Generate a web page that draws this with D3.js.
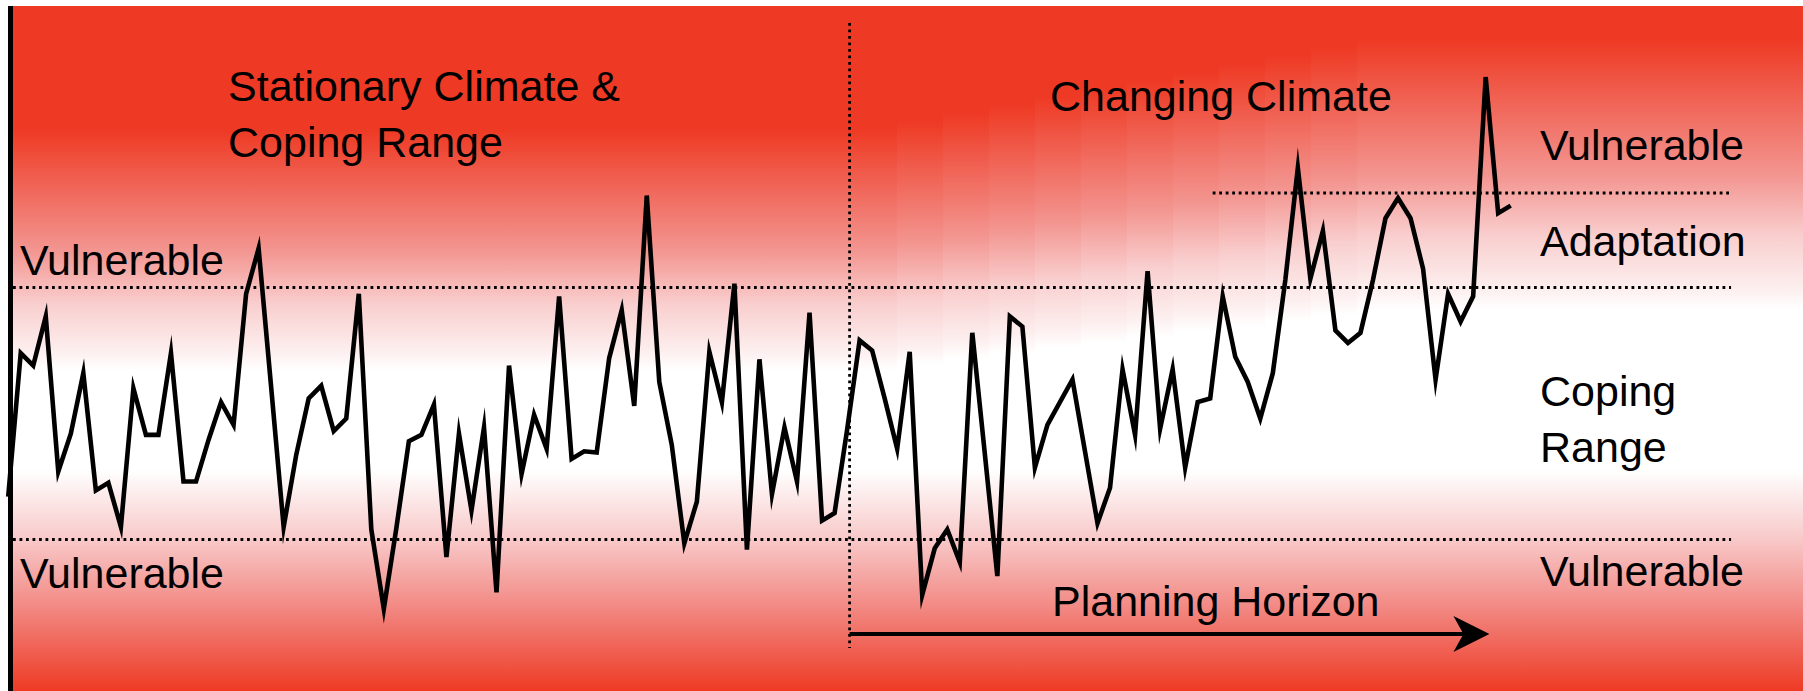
<!DOCTYPE html>
<html>
<head>
<meta charset="utf-8">
<script src="https://cdn.jsdelivr.net/npm/d3@7"></script>
<style>
html,body{margin:0;padding:0;background:#fff;overflow:hidden}
text{font-family:"Liberation Sans",Arial,Helvetica,sans-serif;fill:#000}
</style>
</head>
<body>
<svg id="chart" width="1803" height="691"></svg>
<script>
// ---------------- data ----------------
const steps = d3.range(121); // time steps
const climateValues = [
  -0.66, 0.48, 0.38, 0.77, -0.46, -0.16, 0.32, -0.61, -0.55, -0.90,
   0.20, -0.17, -0.17, 0.48, -0.54, -0.54, -0.21, 0.09, -0.09, 0.95,
   1.31, 0.21, -0.90, -0.33, 0.12, 0.22, -0.14, -0.04, 0.95, -0.92,
  -1.55, -0.91, -0.22, -0.17, 0.07, -1.14, -0.16, -0.77, -0.11, -1.42,
   0.38, -0.48, -0.01, -0.28, 0.93, -0.36, -0.30, -0.31, 0.44, 0.82,
   0.06, 1.73, 0.25, -0.25, -1.03, -0.70, 0.49, 0.09, 1.03, -1.08,
   0.43, -0.64, -0.11, -0.54, 0.80, -0.85, -0.79, -0.13, 0.58, 0.50,
   0.12, -0.28, 0.49, -1.44, -1.07, -0.92, -1.18, 0.64, -0.32, -1.29,
   0.77, 0.69, -0.43, -0.09, 0.09, 0.27, -0.30, -0.87, -0.59, 0.35,
  -0.17, 1.13, -0.12, 0.35, -0.43, 0.09, 0.12, 0.93, 0.45, 0.25,
  -0.04, 0.32, 1.06, 1.95, 1.07, 1.45, 0.66, 0.56, 0.64, 1.06,
   1.55, 1.71, 1.55, 1.15, 0.27, 0.95, 0.73, 0.93, 2.67, 1.59,
   1.65
];
const copingBounds = [-1, 1];        // lower / upper coping thresholds
const adaptationBound = 1.75;        // upper adaptation threshold
const changeStart = 67.2;            // step where the climate starts changing
const planningEnd = 118.3;           // end of the planning horizon arrow
const adaptationStart = 96.2;        // step where the adaptation band starts
const lineEnd = 137.6;               // right end of the threshold lines (in steps)
const titleLabels = ["Stationary Climate &", "Coping Range"];
const changeLabel = "Changing Climate";
const horizonLabel = "Planning Horizon";
const rightLabels = ["Vulnerable", "Adaptation", "Coping", "Range", "Vulnerable"];
const leftLabels = ["Vulnerable", "Vulnerable"];

// ---------------- setup ----------------
const W = 1803, H = 691;
const RED = "#EE3A24";
const svg = d3.select("#chart");
const defs = svg.append("defs");

const x = d3.scaleLinear().domain([0, steps.length - 1]).range([8.2, 1510.7]);
const y = d3.scaleLinear().domain(copingBounds).range([539.5, 287.5]);

const topY = 6, leftX = 13;

// ---------------- background ----------------
function makeGrad(id, a, b) {
  const g = defs.append("linearGradient").attr("id", id)
    .attr("gradientUnits", "userSpaceOnUse")
    .attr("x1", 0).attr("y1", 0).attr("x2", 0).attr("y2", H);
  const stops = [
    [0, RED], [a, RED],
    [a + 0.5 * (b - a), "#F39590"],
    [a + 0.73 * (b - a), "#F9CFCF"],
    [a + 0.93 * (b - a), "#FDF0F0"],
    [b, "#FFFFFF"], [470, "#FFFFFF"],
    [540, "#F8C8C8"], [610, "#F28680"], [H, RED]
  ];
  stops.forEach(([o, c]) => g.append("stop").attr("offset", o / H).attr("stop-color", c));
}
const stripStart = 897, stripEnd = 1357, nStrips = 10;
const aL = 130, bL = 370, aR = 40, bR = 310;
makeGrad("g0", aL, bL);
svg.append("rect").attr("x", leftX).attr("y", topY).attr("width", stripStart - leftX + 1)
  .attr("height", H - topY).attr("fill", "url(#g0)");
const sw = (stripEnd - stripStart) / nStrips;
for (let k = 0; k < nStrips; k++) {
  const t = (k + 1) / (nStrips + 1);
  makeGrad("s" + k, aL + (aR - aL) * t, bL + (bR - bL) * t);
  svg.append("rect").attr("x", stripStart + k * sw).attr("y", topY).attr("width", sw + 1)
    .attr("height", H - topY).attr("fill", `url(#s${k})`);
}
makeGrad("gR", aR, bR);
svg.append("rect").attr("x", stripEnd).attr("y", topY).attr("width", W - stripEnd)
  .attr("height", H - topY).attr("fill", "url(#gR)");

// ---------------- threshold lines ----------------
const dot = { w: 2.8, dash: "2.8 3.7" };
const xEnd = x(lineEnd);
copingBounds.forEach(v => {
  svg.append("line").attr("x1", leftX).attr("x2", xEnd).attr("y1", y(v)).attr("y2", y(v))
    .attr("stroke", "#000").attr("stroke-width", dot.w).attr("stroke-dasharray", dot.dash);
});
svg.append("line").attr("x1", x(adaptationStart)).attr("x2", xEnd)
  .attr("y1", y(adaptationBound)).attr("y2", y(adaptationBound))
  .attr("stroke", "#000").attr("stroke-width", dot.w).attr("stroke-dasharray", dot.dash);
svg.append("line").attr("x1", x(changeStart)).attr("x2", x(changeStart)).attr("y1", 23).attr("y2", 648)
  .attr("stroke", "#000").attr("stroke-width", dot.w).attr("stroke-dasharray", dot.dash);

// ---------------- climate line ----------------
const line = d3.line().x((d, i) => x(steps[i])).y(d => y(d));
svg.append("path").datum(climateValues).attr("d", line)
  .attr("fill", "none").attr("stroke", "#000").attr("stroke-width", 4.6)
  .attr("stroke-linejoin", "miter").attr("stroke-miterlimit", 10);

// left bar
svg.append("rect").attr("x", 8).attr("y", topY).attr("width", 5).attr("height", H - topY).attr("fill", "#000");

// ---------------- planning horizon arrow ----------------
const ay = 634, ax0 = x(changeStart), ax1 = x(planningEnd);
svg.append("line").attr("x1", ax0).attr("x2", ax1 - 20).attr("y1", ay).attr("y2", ay)
  .attr("stroke", "#000").attr("stroke-width", 3.8);
svg.append("path")
  .attr("d", `M${ax1},${ay} L${ax1 - 36},${ay - 18} L${ax1 - 26},${ay} L${ax1 - 36},${ay + 18} Z`)
  .attr("fill", "#000");

// ---------------- labels ----------------
const fs = 43;
function label(t, px, py) {
  svg.append("text").attr("x", px).attr("y", py).attr("font-size", fs).text(t);
}
label(titleLabels[0], 228, 101);
label(titleLabels[1], 228, 157);
label(changeLabel, 1050, 111);
label(horizonLabel, 1052, 616);
label(leftLabels[0], 20, 275);
label(leftLabels[1], 20, 588);
const rightY = [160, 256, 406, 462, 586];
rightLabels.forEach((t, i) => label(t, 1540, rightY[i]));
</script>
</body>
</html>
